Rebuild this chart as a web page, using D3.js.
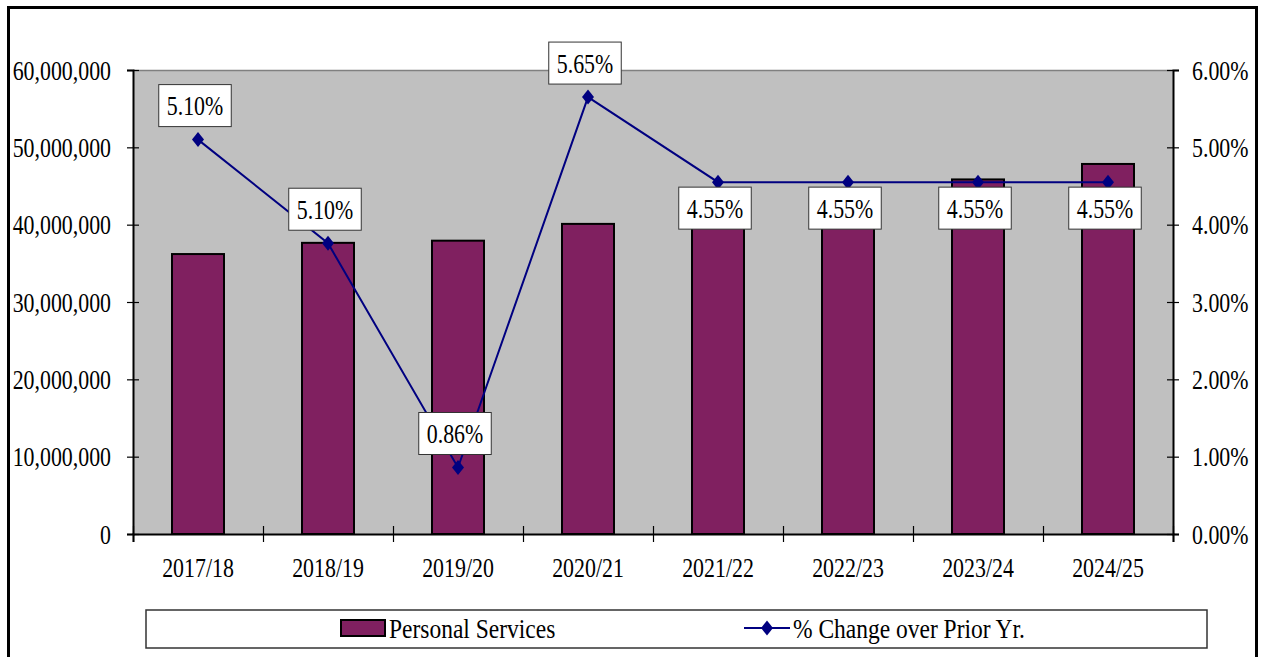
<!DOCTYPE html>
<html><head><meta charset="utf-8">
<script src="https://cdn.jsdelivr.net/npm/d3@7"></script>
<style>
html,body{margin:0;padding:0;background:#fff;}
svg{display:block;}
</style></head>
<body>
<svg id="chart" width="1264" height="657"></svg>
<script>
// ---- data ----
const categories = ["2017/18","2018/19","2019/20","2020/21","2021/22","2022/23","2023/24","2024/25"];
const personalServices = [36200000, 37650000, 37930000, 40100000, 41900000, 43800000, 45850000, 47850000];
const pctChange = [5.10, 3.76, 0.86, 5.65, 4.55, 4.55, 4.55, 4.55];
const pctLabels = ["5.10%","5.10%","0.86%","5.65%","4.55%","4.55%","4.55%","4.55%"];
const leftTicks = [0,10000000,20000000,30000000,40000000,50000000,60000000];
const rightTicks = [0,1,2,3,4,5,6];
const seriesNames = ["Personal Services","% Change over Prior Yr."];

// ---- layout ----
const FONT = "'Liberation Serif', 'Times New Roman', Times, serif";
const FS = 27;
const COND = 0.81;
const COND_LEG = 0.87;
const svg = d3.select("#chart");
const L = 133, R = 1173, T = 70, B = 534;

// outer frame
svg.append("rect").attr("x",8.5).attr("y",7.5).attr("width",1248).attr("height",680)
  .attr("fill","#fff").attr("stroke","#000").attr("stroke-width",3);

// plot area
svg.append("rect").attr("x",L).attr("y",T).attr("width",R-L).attr("height",B-T)
  .attr("fill","#C0C0C0");
svg.append("line").attr("x1",L).attr("x2",R).attr("y1",T+0.5).attr("y2",T+0.5)
  .attr("stroke","#808080").attr("stroke-width",1.5);

const x = d3.scaleBand().domain(categories).range([L,R]).paddingInner(0.6).paddingOuter(0.3);
const xEdge = d3.scaleLinear().domain([0,categories.length]).range([L,R]);
const yL = d3.scaleLinear().domain([0,60000000]).range([B,T]);
const yR = d3.scaleLinear().domain([0,6]).range([B,T]);

// bars
svg.append("g").selectAll("rect").data(personalServices).join("rect")
  .attr("x",(d,i)=>x(categories[i]))
  .attr("y",d=>yL(d))
  .attr("width",x.bandwidth())
  .attr("height",d=>B-yL(d))
  .attr("fill","#802060").attr("stroke","#000").attr("stroke-width",2);

// left axis
const gL = svg.append("g").attr("transform",`translate(${L},0)`)
  .call(d3.axisLeft(yL).tickValues(leftTicks).tickSize(6).tickPadding(16).tickFormat(d3.format(",")));
// right axis
const gR = svg.append("g").attr("transform",`translate(${R},0)`)
  .call(d3.axisRight(yR).tickValues(rightTicks).tickSize(6).tickPadding(13).tickFormat(d=>d3.format(".2f")(d)+"%"));
// bottom axis: tick marks at category edges
const gB = svg.append("g").attr("transform",`translate(0,${B})`)
  .call(d3.axisBottom(xEdge).tickValues(d3.range(categories.length+1)).tickSize(8).tickFormat(""));
// bottom labels
const gBL = svg.append("g").attr("transform",`translate(0,${B})`)
  .call(d3.axisBottom(x).tickSize(0).tickPadding(0));
gBL.select(".domain").remove();
gBL.selectAll("text").attr("y",43).attr("dy",0);

[gL,gR,gB,gBL].forEach(g=>g.attr("font-family",FONT).attr("font-size",FS));
[gL,gR,gB].forEach(g=>{
  g.select(".domain").attr("stroke","#000").attr("stroke-width",2);
  g.selectAll(".tick line").attr("stroke","#000").attr("stroke-width",1.2);
});
gL.selectAll(".tick line").attr("x1",6);
gR.selectAll(".tick line").attr("x1",-6);
gB.selectAll(".tick line").attr("y1",-8);
gL.selectAll("text").attr("dy","0.34em");
gR.selectAll("text").attr("dy","0.34em");
svg.selectAll(".tick text").attr("class","cond");

// line
const pts = pctChange.map((v,i)=>[x(categories[i])+x.bandwidth()/2, yR(v)]);
svg.append("path").datum(pts).attr("d",d3.line())
  .attr("fill","none").attr("stroke","#000080").attr("stroke-width",2);
const diamond = "M0,-7.5L6,0L0,7.5L-6,0Z";
svg.append("g").selectAll("path").data(pts).join("path")
  .attr("d",diamond).attr("transform",d=>`translate(${d[0]},${d[1]})`).attr("fill","#000080");

// data labels
const lg = svg.append("g").attr("font-family",FONT).attr("font-size",FS);
pctLabels.forEach((s,i)=>{
  const [px,py] = pts[i];
  const above = i < 4;
  const g = lg.append("g");
  const r = g.append("rect").attr("fill","#fff").attr("stroke","#333").attr("stroke-width",1);
  const t = g.append("text").attr("class","cond").attr("text-anchor","middle").text(s);
  const w = t.node().getComputedTextLength()*COND + 16;
  const h = 42;
  const cx = px - 3;
  const top = above ? py - 13 - h : py + 5;
  r.attr("x",cx-w/2).attr("y",top).attr("width",w).attr("height",h);
  t.attr("x",cx).attr("y",top+h/2+9.5);
});

// legend
const leg = svg.append("g").attr("font-family",FONT).attr("font-size",FS);
leg.append("rect").attr("x",146).attr("y",610).attr("width",1061).attr("height",38)
  .attr("fill","#fff").attr("stroke","#333").attr("stroke-width",1.5);
leg.append("rect").attr("x",341).attr("y",620).attr("width",44).attr("height",16)
  .attr("fill","#802060").attr("stroke","#000").attr("stroke-width",2);
leg.append("text").attr("class","cond leg").attr("x",389).attr("y",638).text(seriesNames[0]);
leg.append("line").attr("x1",744).attr("x2",790).attr("y1",628).attr("y2",628)
  .attr("stroke","#000080").attr("stroke-width",2);
leg.append("path").attr("d",diamond).attr("transform","translate(767,628)").attr("fill","#000080");
leg.append("text").attr("class","cond leg").attr("x",793).attr("y",638).text(seriesNames[1]);

// condense the serif text horizontally (narrow Times look of the original)
svg.selectAll("text.cond").attr("fill","#000").each(function(){
  const k = this.classList.contains("leg") ? COND_LEG : COND;
  const x0 = +(this.getAttribute("x") || 0);
  d3.select(this).attr("x", x0/k).attr("transform",`scale(${k},1)`);
});
</script>
</body></html>
